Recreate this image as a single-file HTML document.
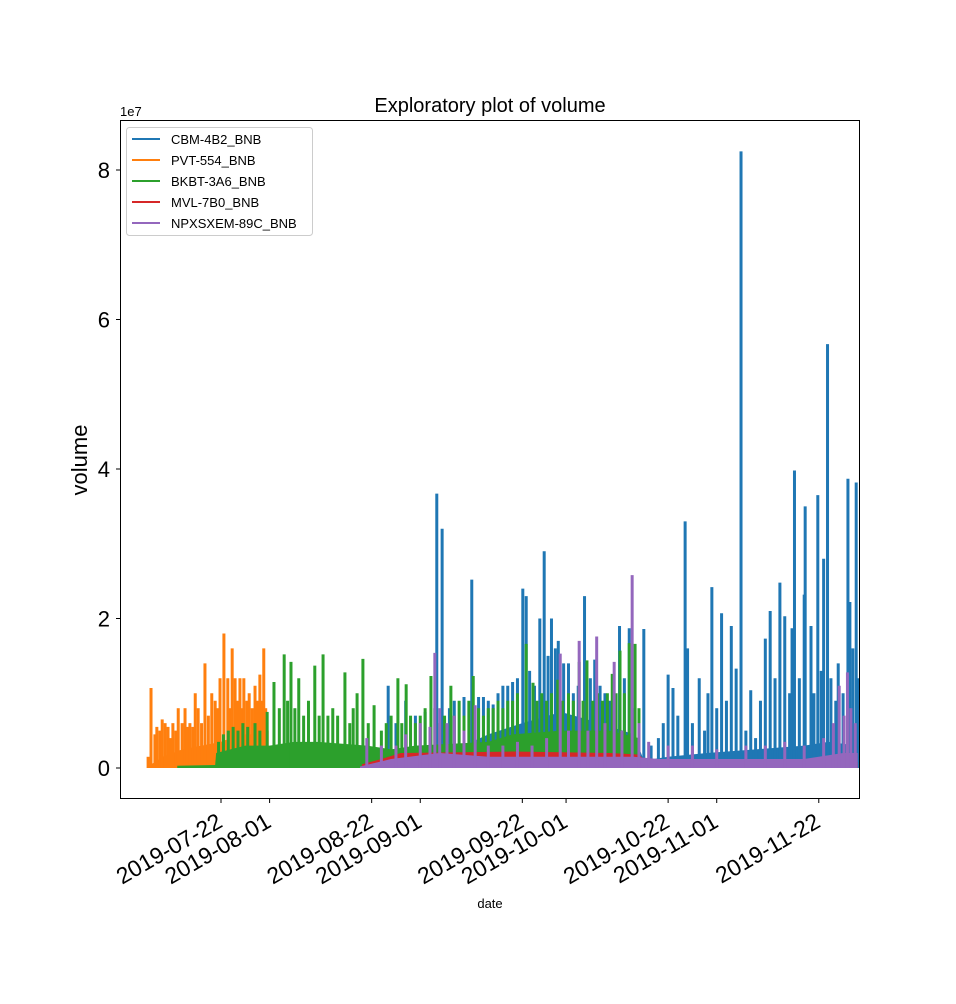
<!DOCTYPE html>
<html><head><meta charset="utf-8"><style>
body{margin:0;background:#fff;}
svg text{font-family:"Liberation Sans","DejaVu Sans",sans-serif;}
</style></head><body>
<svg id="chart" width="956" height="999" xmlns="http://www.w3.org/2000/svg">
<rect width="956" height="999" fill="#fff"/>
<text x="490" y="112" font-size="20" text-anchor="middle">Exploratory plot of volume</text>
<text x="120" y="116" font-size="13">1e7</text>
<text transform="translate(87,460) rotate(-90)" font-size="22" text-anchor="middle">volume</text>
<text x="490" y="908" font-size="13" text-anchor="middle">date</text>
<defs><clipPath id="clip"><rect x="120" y="120" width="740" height="679"/></clipPath></defs>
<g id="marks" clip-path="url(#clip)"></g>
<g id="axes"></g>
<rect x="120.5" y="120.5" width="739" height="678" fill="none" stroke="#000" stroke-width="1"/>
<g>
<rect x="126.5" y="127.5" width="186" height="108" rx="3" fill="#fff" fill-opacity="0.8" stroke="#ccc"/>
<g id="legend-items"></g>
</g>
</svg>
<script>
// Days are offsets from 2019-07-22; values in units of 1e7
const seriesNames = ["CBM-4B2_BNB","PVT-554_BNB","BKBT-3A6_BNB","MVL-7B0_BNB","NPXSXEM-89C_BNB"];
const seriesColors = ["#1f77b4","#ff7f0e","#2ca02c","#d62728","#9467bd"];
const yTicks = [0,2,4,6,8];
const xTickLabels = ["2019-07-22","2019-08-01","2019-08-22","2019-09-01","2019-09-22","2019-10-01","2019-10-22","2019-11-01","2019-11-22"];
const xTickDays = [0,10,31,41,62,71,92,102,123];

const blueBand = [[34,0.05],[40,0.2],[50,0.3],[55,0.45],[62,0.6],[70,0.75],[78,0.6],[85,0.45],[87,0.1],[92,0.15],[100,0.2],[110,0.25],[120,0.3],[125,0.35],[131,0.3]];
const blueSpikes = [[34.4,1.1],[36,0.6],[38,0.9],[40,0.7],[42,0.75],[44.4,3.67],[45.5,3.2],[47,0.8],[48,0.9],[50,0.95],[51.6,2.52],[53,0.95],[54,0.95],[55,0.9],[56,0.85],[57,1.0],[58,1.1],[59,1.1],[60,1.15],[61,1.2],[62.1,2.4],[62.8,2.3],[63.5,1.3],[64.5,1.1],[65.6,2.0],[66.5,2.9],[67.3,1.5],[68,2.0],[68.8,1.6],[69.4,1.7],[70.5,1.4],[71.5,1.4],[72.5,1.0],[73.5,1.1],[74.8,2.3],[76,1.2],[76.9,1.45],[78,1.1],[79,1.0],[80,0.9],[82,1.9],[83,1.2],[84,1.87],[85,0.8],[87,1.86],[88.5,0.3],[90,0.4],[91,0.6],[92,1.25],[93,1.07],[94,0.7],[95.5,3.3],[96,1.6],[97,0.6],[98.4,1.2],[99.5,0.5],[100.2,1.0],[101,2.42],[102,0.8],[103,2.07],[104,0.9],[105,1.9],[106,1.33],[107,8.25],[108,0.5],[109,1.04],[110,0.4],[111,0.9],[112,1.73],[113,2.1],[114,1.2],[115,2.48],[116,2.03],[117,1.0],[117.5,1.87],[118,3.98],[119,1.2],[120,2.32],[120.2,3.5],[121.4,1.9],[122,1.0],[122.8,3.65],[123.5,1.3],[124,2.8],[124.8,5.67],[125.5,1.2],[126.5,0.9],[127,1.4],[128,1.0],[129,3.87],[129.4,2.22],[130,1.6],[130.7,3.82],[131.2,1.2]];
const orangeBand = [[-15,0.02],[-12,0.15],[-8,0.25],[-4,0.3],[0,0.35],[4,0.45],[8,0.45],[9.5,0.3],[10,0]];
const orangeSpikes = [[-15,0.15],[-14.4,1.07],[-13.6,0.45],[-13.2,0.55],[-12.6,0.5],[-12.1,0.65],[-11.5,0.6],[-10.9,0.55],[-10.4,0.4],[-9.9,0.6],[-9.3,0.5],[-8.8,0.8],[-8,0.6],[-7.4,0.8],[-6.9,0.55],[-6.4,0.6],[-5.8,0.55],[-5.3,1.0],[-4.7,0.8],[-4,0.6],[-3.3,1.4],[-2.6,0.7],[-1.9,1.0],[-1.2,0.9],[-0.7,0.8],[-0.2,1.2],[0.6,1.8],[1.4,1.2],[1.9,0.8],[2.3,1.6],[2.9,1.2],[3.4,0.9],[3.9,1.2],[4.3,0.8],[4.7,1.2],[5.3,0.9],[5.8,1.0],[6.4,0.8],[7,1.1],[7.5,0.9],[8,1.25],[8.4,0.9],[8.8,1.6],[9.2,0.8],[9.5,0.5]];
const greenBand = [[-9,0.03],[-1.2,0.04],[-1,0.2],[5,0.3],[10,0.3],[15,0.35],[20,0.35],[30,0.3],[35,0.25],[40,0.3],[55,0.35],[60,0.45],[70,0.5],[80,0.5],[86,0.4],[86.5,0]];
const greenSpikes = [[-0.5,0.35],[0.5,0.45],[1.5,0.5],[2.5,0.55],[3.5,0.5],[4.5,0.6],[5.5,0.55],[7,0.6],[8,0.5],[9.5,0.75],[10.9,1.15],[12,0.8],[13,1.52],[13.7,0.9],[14.4,1.42],[15.2,0.8],[16,1.2],[17,0.7],[18,0.9],[19.3,1.37],[20.2,0.7],[21,1.52],[22,0.7],[23,0.8],[24,0.7],[25.5,1.28],[26.5,0.6],[27.2,0.8],[28,1.0],[29.2,1.46],[30.3,0.6],[31.5,0.84],[33,0.5],[34,0.6],[35,0.7],[36.4,1.2],[37.2,0.6],[38.1,1.12],[39,0.7],[40,0.6],[41,0.7],[42,0.8],[43.2,1.23],[44,0.8],[45,0.6],[46,0.7],[47.3,1.1],[48,0.7],[49,0.9],[50,0.7],[51,0.9],[51.9,1.23],[53,0.8],[54,0.7],[55,0.8],[56,0.8],[57,0.9],[58,0.8],[59,0.9],[60,0.9],[61,1.0],[62.8,1.66],[64.2,1.14],[65,0.9],[66,1.0],[67,0.9],[68,1.0],[69.3,1.18],[70.3,0.9],[71.5,1.0],[72.5,0.9],[73.7,1.42],[74.5,0.9],[75.3,1.44],[76.5,0.9],[77.5,1.0],[78.5,0.9],[79.5,1.0],[80.5,1.26],[81.3,1.0],[82.1,1.57],[83,1.0],[84,1.67],[85.2,1.66],[86,0.8]];
const redBand = [[29,0.05],[33,0.12],[37,0.2],[60,0.22],[80,0.2],[86,0.18],[88,0.06],[131,0.08]];
const purpleBand = [[28.6,0.02],[35,0.12],[45,0.2],[55,0.15],[70,0.15],[85,0.15],[90,0.12],[120,0.12],[128,0.2],[131,0.2]];
const purpleSpikes = [[30,0.4],[33,0.3],[36,0.3],[38,0.45],[41,0.6],[43,0.55],[44,1.54],[45,0.8],[46.5,0.6],[48,0.7],[50,0.5],[52.3,0.84],[55,0.3],[58,0.3],[61,0.35],[64,0.3],[67,0.4],[69.8,1.53],[71.5,0.5],[73.7,1.7],[75.5,0.5],[77.3,1.76],[79,0.6],[80.9,1.42],[82.5,0.5],[84.6,2.58],[86,0.6],[88,0.35],[92,0.3],[97,0.3],[102,0.25],[108,0.3],[112,0.3],[116,0.35],[120,0.3],[124,0.4],[126,0.6],[127.2,1.1],[128.2,0.7],[128.9,1.28],[129.6,0.8],[130.5,0.6]];

const X = d => 221 + d*4.86;
const Y = v => 768 - v*74.75;
const NS = "http://www.w3.org/2000/svg";
const marks = document.getElementById("marks");
const axes = document.getElementById("axes");

function drawBand(band, color, name){
  const p = document.createElementNS(NS,"polygon");
  let pts = [X(band[0][0])+","+Y(0)];
  band.forEach(b=>pts.push(X(b[0])+","+Y(b[1])));
  pts.push(X(band[band.length-1][0])+","+Y(0));
  p.setAttribute("points", pts.join(" "));
  p.setAttribute("fill", color);
  
  
  marks.appendChild(p);
}
function drawSpikes(spikes, color, name){
  spikes.forEach(s=>{
    const l = document.createElementNS(NS,"line");
    l.setAttribute("x1", X(s[0])); l.setAttribute("x2", X(s[0]));
    l.setAttribute("y1", Y(0)); l.setAttribute("y2", Y(s[1]));
    l.setAttribute("stroke", color); l.setAttribute("stroke-width", "3");
    
    
    marks.appendChild(l);
  });
}
drawBand(blueBand, seriesColors[0], "cbm-band");
drawSpikes(blueSpikes, seriesColors[0], "cbm-spike");
drawBand(orangeBand, seriesColors[1], "pvt-band");
drawSpikes(orangeSpikes, seriesColors[1], "pvt-spike");
drawBand(greenBand, seriesColors[2], "bkbt-band");
drawSpikes(greenSpikes, seriesColors[2], "bkbt-spike");
drawBand(redBand, seriesColors[3], "mvl-band");
drawBand(purpleBand, seriesColors[4], "npxsxem-band");
drawSpikes(purpleSpikes, seriesColors[4], "npxsxem-spike");

yTicks.forEach(v=>{
  const y = Y(v);
  const t = document.createElementNS(NS,"line");
  t.setAttribute("x1",116); t.setAttribute("x2",120); t.setAttribute("y1",y); t.setAttribute("y2",y);
  t.setAttribute("stroke","#000");
  
  
  axes.appendChild(t);
  const tx = document.createElementNS(NS,"text");
  tx.setAttribute("x",110); tx.setAttribute("y",y+8);
  tx.setAttribute("font-size","22"); tx.setAttribute("text-anchor","end");
  tx.textContent = v;
  
  
  axes.appendChild(tx);
});
xTickLabels.forEach((lab,i)=>{
  const x = X(xTickDays[i]);
  const t = document.createElementNS(NS,"line");
  t.setAttribute("x1",x); t.setAttribute("x2",x); t.setAttribute("y1",799); t.setAttribute("y2",803);
  t.setAttribute("stroke","#000");
  
  
  axes.appendChild(t);
  const tx = document.createElementNS(NS,"text");
  tx.setAttribute("transform","translate("+(x+3)+",826) rotate(-30)");
  tx.setAttribute("font-size","23"); tx.setAttribute("text-anchor","end");
  tx.textContent = lab;
  
  
  axes.appendChild(tx);
});
const leg = document.getElementById("legend-items");
seriesNames.forEach((n,i)=>{
  const y = 139 + i*21;
  const l = document.createElementNS(NS,"line");
  l.setAttribute("x1",132); l.setAttribute("x2",160); l.setAttribute("y1",y); l.setAttribute("y2",y);
  l.setAttribute("stroke",seriesColors[i]); l.setAttribute("stroke-width","2");
  
  
  leg.appendChild(l);
  const tx = document.createElementNS(NS,"text");
  tx.setAttribute("x",171); tx.setAttribute("y",y+5); tx.setAttribute("font-size","13");
  tx.textContent = n;
  
  
  leg.appendChild(tx);
});
</script>
</body></html>
